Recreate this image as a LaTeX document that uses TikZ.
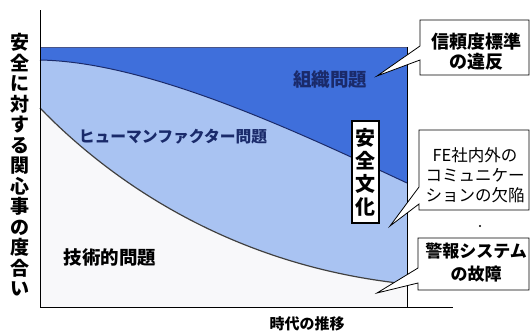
\documentclass[tikz,border=0pt]{standalone}
\usepackage{fontspec}
\newfontfamily\jp{Noto Sans CJK JP}
\definecolor{darkblue}{HTML}{3F6FDB}
\definecolor{lightblue}{HTML}{A9C3F2}
\definecolor{offwhite}{HTML}{F8F8FA}
\definecolor{navytext}{HTML}{1A2A6A}
\begin{document}
\begin{tikzpicture}[x=1pt,y=-1pt,
  callout/.style={draw=black,fill=white,line width=0.8pt,line join=miter},
  boundary/.style={line width=1pt},
  lbl/.style={inner sep=0pt,font=\jp},
]
\useasboundingbox (0,0) rectangle (531,332);
\fill[white] (0,0) rectangle (531,332);
% regions
\fill[darkblue] (40,47) rectangle (407,307);
\fill[lightblue] (40,60) .. controls (150,62) and (300,133) .. (407,183) -- (407,307) -- (40,307) -- cycle;
\fill[offwhite] (40,108) .. controls (100,170) and (220,265) .. (407,284) -- (407,307) -- (40,307) -- cycle;
\draw[boundary,draw=navytext] (40,60) .. controls (150,62) and (300,133) .. (407,183);
\draw[boundary,draw=black!75,line width=1.2pt] (40,108) .. controls (100,170) and (220,265) .. (407,284);
\draw[line width=0.9pt,draw=navytext!80] (40,47) -- (407,47);
% axes
\coordinate (ytop) at (40,10);
\coordinate (origin) at (40,307);
\coordinate (xend) at (453,307);
\coordinate (rtop) at (407,47);
\coordinate (rbot) at (407,307);
\draw[line width=0.9pt] (ytop) -- (origin) -- (xend);
\draw[line width=0.9pt] (rtop) -- (rbot);
% axis labels
\node[lbl,align=center,font=\jp\bfseries\fontsize{19}{20.5}\selectfont] (ylab) at (20,165)
  {安\\全\\に\\対\\す\\る\\関\\心\\事\\の\\度\\合\\い};
\node[lbl,font=\jp\bfseries\fontsize{15}{15}\selectfont] (xlab) at (307,324) {時代の推移};
% region labels
\node[lbl,text=navytext,font=\jp\bfseries\fontsize{15.8}{16}\selectfont] (hf) at (173,137) {ヒューマンファクター問題};
\node[lbl,text=navytext,font=\jp\bfseries\fontsize{18.5}{19}\selectfont] (org) at (330,80) {組織問題};
\node[lbl,text=black,font=\jp\bfseries\fontsize{18.5}{19}\selectfont] (tech) at (110,258) {技術的問題};
\node[rectangle,draw=black,line width=1.6pt,fill=white,minimum width=27pt,minimum height=102pt,inner sep=0pt,align=center,
  font=\jp\bfseries\fontsize{20}{23}\selectfont] (culture) at (365.5,172) {安\\全\\文\\化};
% callouts
\coordinate (tip1) at (377,76);
\coordinate (tip2) at (390,226);
\coordinate (tip3) at (377,293);
\draw[callout] (420,20) -- (529,20) -- (529,75) -- (420,75) -- (420,60) -- (tip1) -- (420,46) -- cycle;
\draw[callout] (419,130) -- (529,130) -- (529,210) -- (419,210) -- (419,204) -- (tip2) -- (419,187) -- cycle;
\draw[callout] (418,238) -- (529,238) -- (529,290) -- (418,290) -- (418,283) -- (tip3) -- (418,268) -- cycle;
\node[lbl,align=center,font=\jp\bfseries\fontsize{18}{20}\selectfont] (c1) at (476,52) {信頼度標準\\の違反};
\node[lbl,align=center,font=\jp\fontsize{16.5}{20}\selectfont] (c2) at (475,175) {FE社内外の\\コミュニケー\\ションの欠陥};
\node[lbl,align=center,font=\jp\bfseries\fontsize{17}{23}\selectfont] (c3) at (476,263) {警報システム\\の故障};
\fill[black] (480,226) circle (1.2);
\end{tikzpicture}
\end{document}
